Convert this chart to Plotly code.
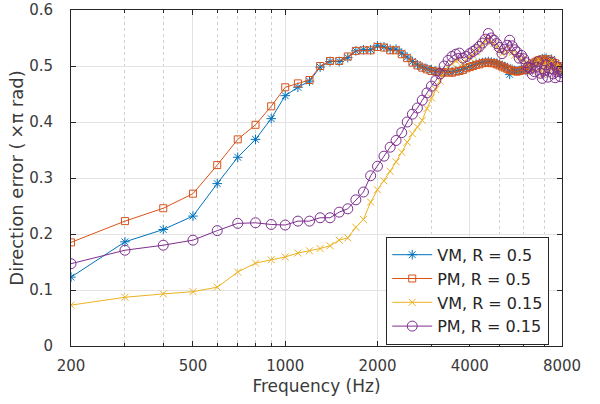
import plotly.graph_objects as go

freqs = list(range(200, 8100, 100))

vm_05 = [0.123, 0.186, 0.208, 0.232, 0.290, 0.337, 0.369, 0.406, 0.447, 0.462,
         0.473, 0.498, 0.508, 0.508, 0.515, 0.527, 0.529, 0.529,
         0.536, 0.534, 0.530, 0.530, 0.523, 0.516, 0.508, 0.502, 0.498, 0.495,
         0.493, 0.491, 0.490, 0.489, 0.490, 0.489, 0.491, 0.492, 0.494, 0.497,
         0.499, 0.501, 0.503, 0.505, 0.506, 0.507, 0.508, 0.507, 0.506, 0.505,
         0.503, 0.501, 0.499, 0.497, 0.485, 0.494, 0.492, 0.491, 0.492, 0.493,
         0.494, 0.492, 0.496, 0.499, 0.502, 0.505, 0.507, 0.509, 0.511, 0.513,
         0.512, 0.514, 0.510, 0.508, 0.512, 0.506, 0.502, 0.499, 0.495, 0.492,
         0.490]

pm_05 = [0.185, 0.223, 0.246, 0.272, 0.323, 0.369, 0.395, 0.428, 0.462, 0.469,
         0.475, 0.500, 0.509, 0.509, 0.517, 0.527, 0.528, 0.528,
         0.534, 0.533, 0.528, 0.528, 0.521, 0.514, 0.506, 0.501, 0.497, 0.494,
         0.491, 0.490, 0.489, 0.488, 0.489, 0.488, 0.490, 0.491, 0.493, 0.496,
         0.498, 0.500, 0.502, 0.503, 0.505, 0.506, 0.506, 0.505, 0.505, 0.503,
         0.501, 0.499, 0.497, 0.495, 0.493, 0.492, 0.491, 0.490, 0.491, 0.492,
         0.493, 0.493, 0.496, 0.500, 0.503, 0.506, 0.508, 0.510, 0.509, 0.512,
         0.510, 0.507, 0.512, 0.505, 0.509, 0.502, 0.505, 0.498, 0.500, 0.494,
         0.496]

vm_015 = [0.073, 0.087, 0.093, 0.097, 0.105, 0.132, 0.148, 0.154, 0.159, 0.166,
          0.170, 0.174, 0.179, 0.189, 0.193, 0.212, 0.226, 0.257,
          0.279, 0.295, 0.312, 0.329, 0.346, 0.364, 0.379, 0.391, 0.403, 0.424,
          0.443, 0.458, 0.473, 0.488, 0.497, 0.504, 0.509, 0.512, 0.505, 0.511,
          0.515, 0.519, 0.525, 0.531, 0.538, 0.545, 0.549, 0.543, 0.540, 0.534,
          0.527, 0.522, 0.530, 0.526, 0.531, 0.524, 0.519, 0.522, 0.516, 0.511,
          0.514, 0.505, 0.501, 0.495, 0.490, 0.496, 0.505, 0.512, 0.497, 0.485,
          0.497, 0.508, 0.493, 0.500, 0.510, 0.494, 0.488, 0.505, 0.497, 0.489,
          0.494]

pm_015 = [0.147, 0.171, 0.180, 0.189, 0.206, 0.219, 0.220, 0.217, 0.216, 0.223,
          0.223, 0.229, 0.229, 0.239, 0.245, 0.261, 0.275, 0.304,
          0.321, 0.339, 0.355, 0.367, 0.381, 0.400, 0.414, 0.425, 0.439, 0.452,
          0.464, 0.474, 0.486, 0.500, 0.510, 0.517, 0.521, 0.523, 0.514, 0.517,
          0.522, 0.526, 0.530, 0.535, 0.541, 0.548, 0.558, 0.550, 0.546, 0.540,
          0.533, 0.522, 0.530, 0.537, 0.546, 0.536, 0.529, 0.525, 0.514, 0.519,
          0.513, 0.506, 0.498, 0.496, 0.485, 0.490, 0.498, 0.508, 0.487, 0.478,
          0.492, 0.502, 0.480, 0.495, 0.507, 0.486, 0.479, 0.499, 0.490, 0.481,
          0.488]

series_names = ["VM, R = 0.5", "PM, R = 0.5", "VM, R = 0.15", "PM, R = 0.15"]
x_tickvals = [200, 500, 1000, 2000, 4000, 8000]
x_ticktext = ["200", "500", "1000", "2000", "4000", "8000"]
x_minor = [300, 400, 600, 700, 800, 900, 3000, 5000, 6000, 7000]
y_tickvals = [0, 0.1, 0.2, 0.3, 0.4, 0.5, 0.6]
y_ticktext = ["0", "0.1", "0.2", "0.3", "0.4", "0.5", "0.6"]

colors = ["#0072BD", "#D95319", "#EDB120", "#7E2F8E"]
symbols = ["asterisk-open", "square-open", "x-thin-open", "circle-open"]
msizes = [8, 7, 7, 10]
data = [vm_05, pm_05, vm_015, pm_015]

fig = go.Figure()
for name, vals, c, s, ms in zip(series_names, data, colors, symbols, msizes):
    fig.add_trace(go.Scatter(
        x=freqs, y=vals, name=name, mode="lines+markers",
        line=dict(color=c, width=1),
        marker=dict(symbol=s, size=ms, color=c, line=dict(color=c, width=1)),
    ))

FAM = "DejaVu Sans, Verdana, sans-serif"
axis_col = "#262626"
txt_col = "#3a3a3a"
grid_col = "#e3e3e3"

fig.update_layout(
    width=600, height=404,
    margin=dict(l=71, r=38, t=10, b=58),
    paper_bgcolor="white", plot_bgcolor="white",
    font=dict(family=FAM, size=15, color=txt_col),
    showlegend=True,
    legend=dict(
        x=0.642, y=0.325, xanchor="left", yanchor="top",
        bgcolor="white", bordercolor=axis_col, borderwidth=1,
        font=dict(family=FAM, size=16, color="#262626"),
        tracegroupgap=0, itemwidth=40,
    ),
)

fig.update_xaxes(
    type="log", range=[2.30103, 3.90309], automargin=False,
    tickmode="array", tickvals=x_tickvals, ticktext=x_ticktext,
    tickfont=dict(family=FAM, size=15, color=txt_col),
    ticks="inside", ticklen=5, tickcolor=axis_col, tickwidth=1,
    ticklabelstandoff=6,
    showline=True, linecolor=axis_col, linewidth=1, mirror="allticks",
    showgrid=True, gridcolor=grid_col, gridwidth=1,
    zeroline=False,
    minor=dict(tickmode="array", tickvals=x_minor, ticks="inside", ticklen=3,
               tickcolor=axis_col, showgrid=True, gridcolor="#d0d0d0",
               griddash="dot", gridwidth=1),
    title=dict(text="Frequency (Hz)", standoff=6,
               font=dict(family=FAM, size=17, color=txt_col)),
)
fig.update_yaxes(
    range=[0, 0.6], automargin=False,
    tickmode="array", tickvals=y_tickvals, ticktext=y_ticktext,
    tickfont=dict(family=FAM, size=15, color=txt_col),
    ticks="inside", ticklen=5, tickcolor=axis_col, tickwidth=1,
    ticklabelstandoff=14,
    showline=True, linecolor=axis_col, linewidth=1, mirror="allticks",
    showgrid=True, gridcolor=grid_col, gridwidth=1,
    zeroline=False,
    title=dict(text="Direction error (\u2009×π rad)", standoff=0,
               font=dict(family=FAM, size=18, color=txt_col)),
)

# remove the default 8px page margin so the figure fills the window exactly
fig.write_html("out.html",
               config={"displayModeBar": False},
               post_script="document.body.style.margin='0';document.body.style.overflow='hidden';")
